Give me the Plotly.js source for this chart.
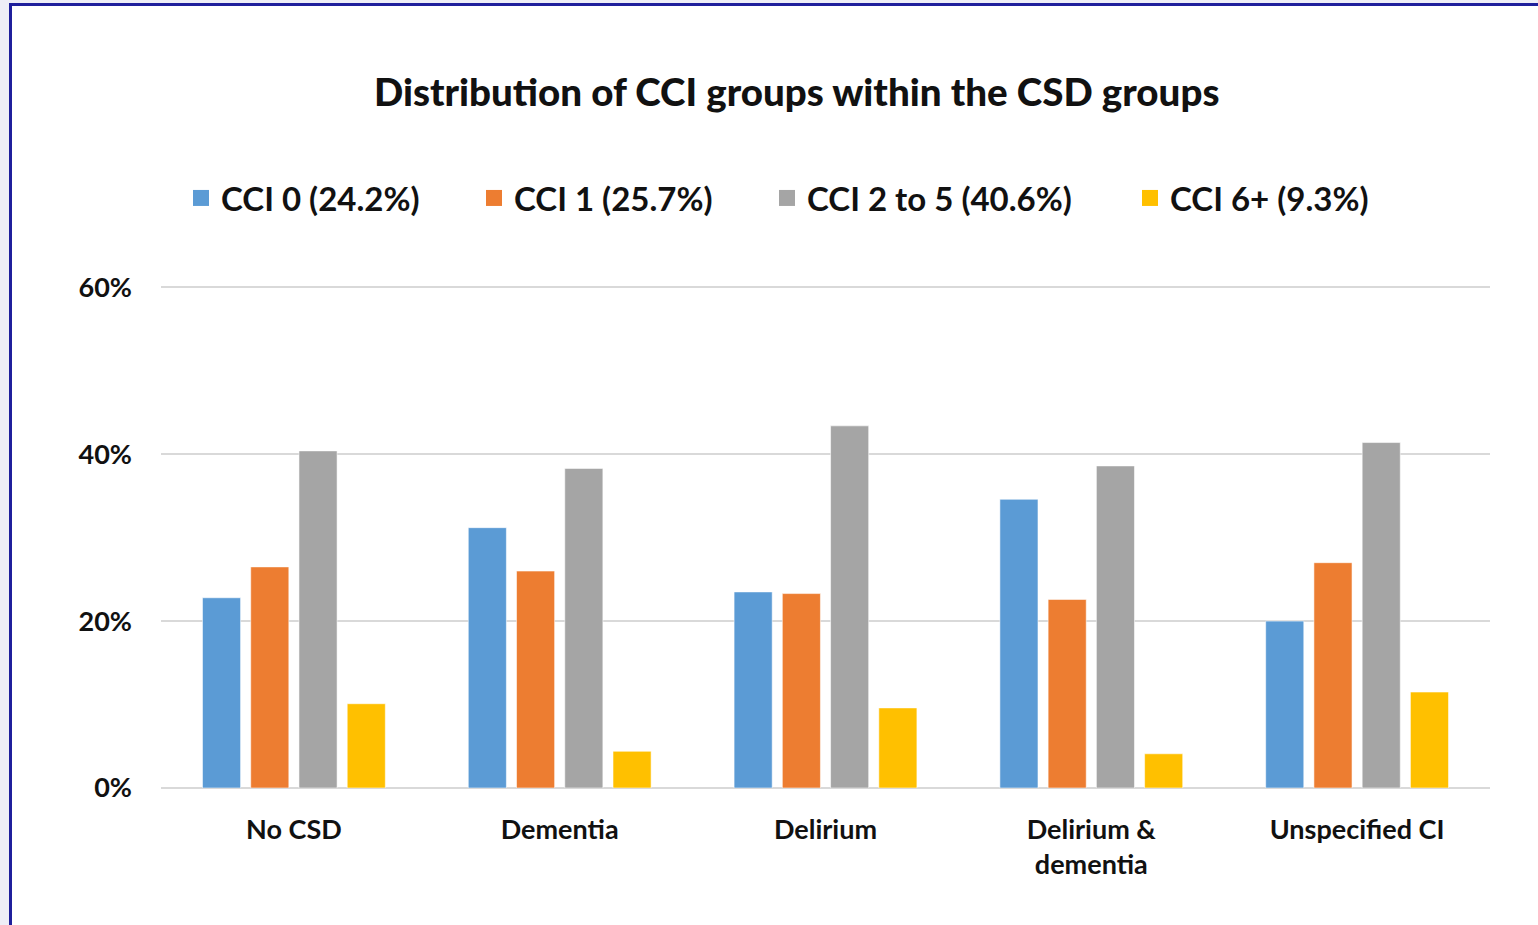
<!DOCTYPE html>
<html>
<head>
<meta charset="utf-8">
<script src="https://cdn.plot.ly/plotly-3.0.1.min.js"></script>
<style>
  html, body { margin: 0; padding: 0; width: 1538px; height: 925px; overflow: hidden; background: #eeeef7; }
  #frame { position: absolute; left: 9px; top: 3px; width: 1535px; height: 930px; background: #ffffff;
           border-left: 3px solid #1f1f9c; border-top: 3px solid #1f1f9c; }
  #chart { position: absolute; left: 0; top: 0; width: 1538px; height: 925px; }
</style>
</head>
<body>
<div id="frame"></div>
<div id="chart"></div>
<script>
const categories = ["No CSD", "Dementia", "Delirium", "Delirium &<br>dementia", "Unspecified CI"];
const seriesNames = ["CCI 0 (24.2%)", "CCI 1 (25.7%)", "CCI 2 to 5 (40.6%)", "CCI 6+ (9.3%)"];
const cci0 = [22.8, 31.2, 23.5, 34.6, 20.0];
const cci1 = [26.5, 26.0, 23.3, 22.6, 27.0];
const cci2to5 = [40.4, 38.3, 43.4, 38.6, 41.4];
const cci6plus = [10.1, 4.4, 9.6, 4.1, 11.5];
const yTicks = [0, 20, 40, 60];

const colors = ["#5B9BD5", "#ED7D31", "#A5A5A5", "#FFC000"];
const seriesValues = [cci0, cci1, cci2to5, cci6plus];
const legendIds = ["legend", "legend2", "legend3", "legend4"];
const FONT = "Lato, 'Open Sans', sans-serif";

const barTraces = seriesValues.map((vals, i) => ({
  type: "bar",
  name: seriesNames[i],
  x: categories,
  y: vals,
  marker: { color: colors[i], line: { color: "rgba(255,255,255,0.55)", width: 1 } },
  showlegend: false,
  hoverinfo: "x+y+name"
}));

// legend-only entries (larger square keys)
const keyTraces = seriesNames.map((name, i) => ({
  type: "scatter",
  mode: "markers",
  name: name,
  x: [categories[0]],
  y: [null],
  marker: { symbol: "square", size: 20, color: colors[i] },
  legend: legendIds[i],
  showlegend: true,
  hoverinfo: "skip"
}));

const legendX = [181, 474, 767, 1130];
const legendBase = {
  orientation: "h",
  xref: "container", xanchor: "left",
  yref: "container", y: 1 - 198 / 925, yanchor: "middle",
  font: { family: FONT, size: 33, color: "#111111", weight: "bold" },
  itemsizing: "trace",
  bgcolor: "rgba(0,0,0,0)"
};

const layout = {
  width: 1538,
  height: 925,
  paper_bgcolor: "rgba(0,0,0,0)",
  plot_bgcolor: "rgba(0,0,0,0)",
  margin: { l: 161, r: 48, t: 279, b: 137 },
  font: { family: FONT, color: "#111111" },
  title: {
    text: "Distribution of CCI groups within the CSD groups",
    font: { family: FONT, size: 38.5, color: "#111111", weight: 900 },
    xref: "container", x: 0.518, xanchor: "center",
    yref: "container", y: 1 - 93 / 925, yanchor: "middle"
  },
  barmode: "group",
  bargap: 0.274,
  bargroupgap: 0.21,
  showlegend: true,
  xaxis: {
    type: "category",
    tickfont: { family: FONT, size: 27, color: "#111111", weight: "bold" },
    showgrid: false,
    showline: false,
    ticks: "",
    ticklabelstandoff: 23
  },
  yaxis: {
    range: [0, 61],
    tickvals: yTicks,
    ticktext: yTicks.map(v => v + "%"),
    tickfont: { family: FONT, size: 27, color: "#111111", weight: "bold" },
    showgrid: true,
    gridcolor: "#D9D9D9",
    gridwidth: 2,
    zeroline: true,
    zerolinecolor: "#D9D9D9",
    zerolinewidth: 2,
    showline: false,
    ticks: "",
    ticklabelstandoff: 28,
    fixedrange: true
  }
};
legendIds.forEach((id, i) => {
  layout[id] = Object.assign({}, legendBase, { x: legendX[i] / 1538 });
});

Plotly.newPlot("chart", barTraces.concat(keyTraces), layout, { displayModeBar: false });
</script>
</body>
</html>
